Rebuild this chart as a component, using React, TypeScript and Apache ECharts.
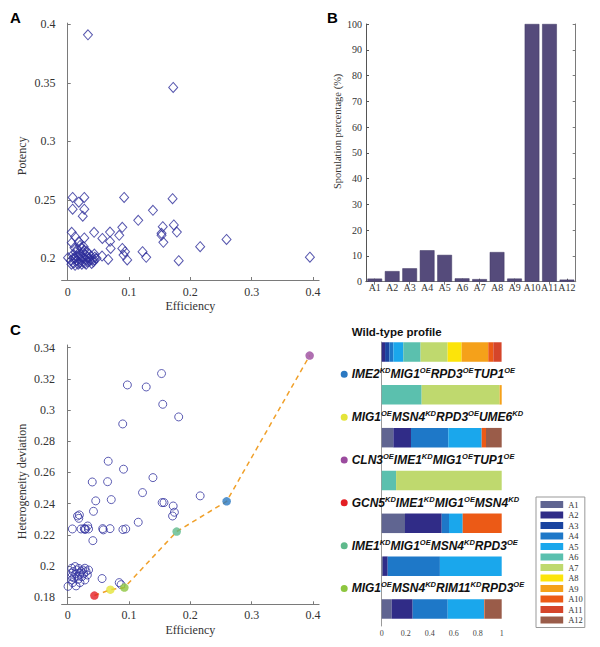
import React, { useEffect, useRef } from 'react';
import * as echarts from 'echarts';

const SERIF = "'Liberation Serif', 'Times New Roman', serif";
const SANS = "'Liberation Sans', Arial, sans-serif";
const AXIS_GRAY = '#7a7a7a';
const TEXT = '#333333';
const MARK_BLUE = '#2d2d9a';

// ---------- Panel A: efficiency vs potency ----------
const effA = [
  0.033, 0.172, 0.395, 0.008, 0.027, 0.092, 0.171, 0.018, 0.008, 0.027, 0.0245, 0.139, 0.115,
  0.155, 0.173, 0.178, 0.153, 0.153, 0.156, 0.089, 0.084, 0.069, 0.043, 0.0565, 0.069, 0.07,
  0.0065, 0.0065, 0.012, 0.027, 0.018, 0.259, 0.216, 0.122, 0.128, 0.089, 0.0935, 0.091, 0.097,
  0.181, 0.066, 0.056, 0.0435, 0.043, 0.047, 0.039, 0.0005,
  0.005, 0.008, 0.01, 0.012, 0.013, 0.015, 0.016, 0.018, 0.019, 0.02, 0.021, 0.022, 0.023, 0.024,
  0.025, 0.026, 0.027, 0.028, 0.029, 0.03, 0.031, 0.032, 0.033, 0.034, 0.035, 0.036, 0.038, 0.04,
  0.042, 0.044, 0.009, 0.011, 0.014, 0.017, 0.02, 0.023, 0.026, 0.03, 0.006, 0.012,
];
const potA = [
  0.391, 0.346, 0.201, 0.252, 0.252, 0.252, 0.251, 0.248, 0.242, 0.242, 0.236, 0.241, 0.2325,
  0.227, 0.2285, 0.2225, 0.2214, 0.2197, 0.2137, 0.2265, 0.2197, 0.2225, 0.2222, 0.217, 0.2145, 0.2085,
  0.2222, 0.2134, 0.2185, 0.2174, 0.2142, 0.2162, 0.21, 0.2057, 0.2009, 0.2085, 0.2057, 0.2028, 0.1986,
  0.198, 0.1991, 0.202, 0.2037, 0.1986, 0.2, 0.1957, 0.2006,
  0.198, 0.203, 0.196, 0.2, 0.205, 0.198, 0.208, 0.202, 0.196, 0.204, 0.199, 0.209, 0.201, 0.197,
  0.205, 0.2, 0.207, 0.196, 0.203, 0.199, 0.206, 0.201, 0.197, 0.204, 0.2, 0.198, 0.202, 0.199,
  0.197, 0.201, 0.2, 0.209, 0.202, 0.195, 0.211, 0.195, 0.21, 0.195, 0.195, 0.194,
];
const ticksA_x = [0, 0.1, 0.2, 0.3, 0.4];
const ticksA_y = [0.2, 0.25, 0.3, 0.35, 0.4];

// ---------- Panel B: sporulation percentage ----------
const clusters = ['A1', 'A2', 'A3', 'A4', 'A5', 'A6', 'A7', 'A8', 'A9', 'A10', 'A11', 'A12'];
const sporulation = [1.2, 4.1, 5.2, 12.2, 10.4, 1.3, 1.0, 11.5, 1.2, 100, 100, 0.8];

// ---------- Panel C: efficiency vs heterogeneity deviation ----------
const effC = [
  0.153, 0.0973, 0.128, 0.155, 0.181, 0.0897, 0.066, 0.091, 0.04, 0.065, 0.139, 0.122, 0.216,
  0.0457, 0.071, 0.154, 0.157, 0.172, 0.174, 0.171, 0.042, 0.019, 0.018, 0.016, 0.115,
  0.0076, 0.0217, 0.027, 0.029, 0.0326, 0.034, 0.028, 0.057, 0.058, 0.069, 0.09, 0.0946, 0.041,
  0.056, 0.084, 0.087,
  0.0005, 0.0065, 0.012, 0.0147, 0.0065, 0.0065, 0.0065, 0.008, 0.0136, 0.02, 0.023, 0.0245,
  0.028, 0.032, 0.028, 0.02, 0.017, 0.034, 0.01, 0.013, 0.016, 0.022, 0.026, 0.03, 0.009, 0.018,
];
const hetC = [
  0.3234, 0.3161, 0.3148, 0.3037, 0.2956, 0.2911, 0.2672, 0.2621, 0.2539, 0.2541, 0.2567, 0.2471, 0.245,
  0.2418, 0.2426, 0.2407, 0.2407, 0.2385, 0.2345, 0.2321, 0.2351, 0.2328, 0.2306, 0.2321, 0.2281,
  0.2238, 0.2238, 0.224, 0.2238, 0.2257, 0.2238, 0.2235, 0.224, 0.2232, 0.224, 0.2234, 0.2238, 0.2163,
  0.192, 0.1894, 0.1881,
  0.187, 0.1986, 0.1997, 0.1975, 0.1954, 0.1932, 0.1911, 0.1894, 0.1873, 0.1894, 0.1932, 0.1975,
  0.1986, 0.1943, 0.1911, 0.1954, 0.1915, 0.1975, 0.1925, 0.195, 0.1935, 0.1965, 0.195, 0.1965, 0.1965, 0.1985,
];
const ticksC_y = [0.18, 0.2, 0.22, 0.24, 0.26, 0.28, 0.3, 0.32, 0.34];

// highlighted designs (ordered by efficiency)
const pathEff = [0.0435, 0.0696, 0.0924, 0.1777, 0.2592, 0.3946];
const pathHet = [0.1811, 0.1849, 0.1862, 0.2221, 0.2415, 0.3349];
const pathColors = ['#e31e24', '#e4e43a', '#8dc63f', '#5fba8c', '#2b79c2', '#9b4b9e'];

// ---------- Profiles (fractions of each cluster) ----------
const profileGenes: [string, string][][] = [
  [],
  [['IME2', 'KD'], ['MIG1', 'OE'], ['RPD3', 'OE'], ['TUP1', 'OE']],
  [['MIG1', 'OE'], ['MSN4', 'KD'], ['RPD3', 'OE'], ['UME6', 'KD']],
  [['CLN3', 'OE'], ['IME1', 'KD'], ['MIG1', 'OE'], ['TUP1', 'OE']],
  [['GCN5', 'KD'], ['IME1', 'KD'], ['MIG1', 'OE'], ['MSN4', 'KD']],
  [['IME1', 'KD'], ['MIG1', 'OE'], ['MSN4', 'KD'], ['RPD3', 'OE']],
  [['MIG1', 'OE'], ['MSN4', 'KD'], ['RIM11', 'KD'], ['RPD3', 'OE']],
];
const profileDotColors = ['', '#2b79c2', '#e4e43a', '#9b4b9e', '#e31e24', '#5fba8c', '#8dc63f'];

const profileWT = [0, 0.028, 0.036, 0.033, 0.083, 0.144, 0.225, 0.117, 0.222, 0.042, 0.069, 0];
const profileIME2 = [0, 0, 0, 0, 0, 0.333, 0.65, 0, 0.017, 0, 0, 0];
const profileUME6 = [0.097, 0.147, 0, 0.311, 0.278, 0, 0, 0, 0, 0.036, 0, 0.131];
const profileCLN3 = [0, 0, 0, 0, 0, 0.12, 0.88, 0, 0, 0, 0, 0];
const profileGCN5 = [0.194, 0.306, 0, 0.061, 0.114, 0, 0, 0, 0, 0.325, 0, 0];
const profileIME1 = [0.01, 0.04, 0, 0.435, 0.515, 0, 0, 0, 0, 0, 0, 0];
const profileRIM11 = [0.083, 0.175, 0, 0.292, 0.303, 0, 0, 0, 0, 0.005, 0, 0.142];
const profiles = [profileWT, profileIME2, profileUME6, profileCLN3, profileGCN5, profileIME1, profileRIM11];

const clusterColors = [
  '#606591', '#302c87', '#1a44a0', '#1e78c8', '#1aa7ec', '#5bc0ae',
  '#bfd96e', '#fce40a', '#f5a11a', '#ec5a16', '#d5452a', '#9a5c49',
];

const profileKeys = profileGenes.map((g, i) =>
  i === 0 ? 'Wild-type profile' : g.map(([a, b]) => a + b).join('')
);

function buildOption(): any {
  const axisLineStyle = { color: AXIS_GRAY, width: 1 };
  const tickLabel = { fontFamily: SERIF, fontSize: 12, color: TEXT };

  const richStyles: any = {
    sp: { width: 11, height: 7 },
    gap: { width: 4, height: 7 },
    wt: { fontFamily: SANS, fontSize: 11.5, fontWeight: 'bold', color: '#111', lineHeight: 15 },
    g: { fontFamily: SANS, fontSize: 12, fontWeight: 'bold', fontStyle: 'italic', color: '#111', lineHeight: 15 },
    s: { fontFamily: SANS, fontSize: 7.5, fontWeight: 'bold', fontStyle: 'italic', color: '#111', lineHeight: 8, verticalAlign: 'top' },
  };
  profileDotColors.forEach((c, i) => {
    if (i > 0) richStyles['d' + i] = { width: 7, height: 7, borderRadius: 3.5, backgroundColor: c };
  });

  const stackSeries = clusters.map((name, k) => ({
    name,
    type: 'bar',
    stack: 'profile',
    xAxisIndex: 4,
    yAxisIndex: 4,
    barWidth: 19.5,
    itemStyle: { color: clusterColors[k] },
    data: profiles.map((p) => p[k]),
  }));

  return {
    animation: false,
    backgroundColor: '#ffffff',
    title: [
      { text: 'A', left: 10, top: 10, padding: 0, textStyle: { fontFamily: SANS, fontSize: 15, fontWeight: 'bold', color: '#000' } },
      { text: 'B', left: 327, top: 10, padding: 0, textStyle: { fontFamily: SANS, fontSize: 15, fontWeight: 'bold', color: '#000' } },
      { text: 'C', left: 10, top: 322, padding: 0, textStyle: { fontFamily: SANS, fontSize: 15, fontWeight: 'bold', color: '#000' } },
    ],
    legend: {
      data: clusters,
      orient: 'vertical',
      left: 536,
      top: 497,
      icon: 'rect',
      itemWidth: 22.7,
      itemHeight: 7,
      itemGap: 1.5,
      padding: [3, 2, 3, 4.5],
      borderColor: '#999',
      borderWidth: 1,
      selectedMode: false,
      textStyle: { fontFamily: SERIF, fontSize: 8.5, color: TEXT },
    },
    grid: [
      { left: 61.6, top: 23.1, width: 257.5, height: 256.9, outerBoundsMode: 'none' },
      { left: 366, top: 24, width: 209.7, height: 257.7, outerBoundsMode: 'none' },
      { left: 61.6, top: 345, width: 257.5, height: 259.3, outerBoundsMode: 'none' },
      { left: 381.7, top: 330.6, width: 120, height: 299.8, outerBoundsMode: 'none' },
      { left: 381.7, top: 342, width: 120, height: 284, outerBoundsMode: 'none' },
    ],
    xAxis: [
      {
        gridIndex: 0, type: 'value', min: -0.01, max: 0.41,
        name: 'Efficiency', nameLocation: 'middle', nameGap: 20,
        nameTextStyle: { fontFamily: SERIF, fontSize: 12, color: TEXT },
        axisLine: { lineStyle: axisLineStyle },
        axisTick: { show: true, inside: true, length: 3, customValues: ticksA_x, lineStyle: axisLineStyle },
        axisLabel: { ...tickLabel, margin: 6, customValues: ticksA_x },
        splitLine: { show: false },
      },
      {
        gridIndex: 1, type: 'category', data: clusters, position: 'bottom',
        axisLine: { lineStyle: { color: '#555' } },
        axisTick: { show: true, inside: true, length: 3, alignWithLabel: true, lineStyle: { color: '#555' } },
        axisLabel: { fontFamily: SERIF, fontSize: 10, color: TEXT, margin: 1, interval: 0 },
      },
      {
        gridIndex: 1, type: 'category', data: clusters, position: 'top',
        axisLine: { lineStyle: { color: AXIS_GRAY } },
        axisTick: { show: true, inside: true, length: 3, alignWithLabel: true, lineStyle: { color: AXIS_GRAY } },
        axisLabel: { show: false },
      },
      {
        gridIndex: 2, type: 'value', min: -0.01, max: 0.41,
        name: 'Efficiency', nameLocation: 'middle', nameGap: 20,
        nameTextStyle: { fontFamily: SERIF, fontSize: 12, color: TEXT },
        axisLine: { lineStyle: axisLineStyle },
        axisTick: { show: true, inside: true, length: 3, customValues: ticksA_x, lineStyle: axisLineStyle },
        axisLabel: { ...tickLabel, margin: 5, customValues: ticksA_x },
        splitLine: { show: false },
      },
      {
        gridIndex: 3, type: 'value', min: 0, max: 1, interval: 0.2,
        axisLine: { show: false },
        axisTick: { show: false },
        axisLabel: { fontFamily: SERIF, fontSize: 8, color: '#444', margin: -1 },
        splitLine: { show: false },
      },
      {
        gridIndex: 4, type: 'value', min: 0, max: 1, show: false,
      },
    ],
    yAxis: [
      {
        gridIndex: 0, type: 'value', min: 0.1815, max: 0.401,
        name: 'Potency', nameLocation: 'middle', nameGap: 34,
        nameTextStyle: { fontFamily: SERIF, fontSize: 12, color: TEXT, padding: [0, 8.6, 0, 0] },
        axisLine: { show: true, lineStyle: axisLineStyle },
        axisTick: { show: true, inside: true, length: 3, customValues: ticksA_y, lineStyle: axisLineStyle },
        axisLabel: { ...tickLabel, margin: 6, customValues: ticksA_y },
        splitLine: { show: false },
      },
      {
        gridIndex: 1, type: 'value', min: 0, max: 100, interval: 10, position: 'left',
        name: 'Sporulation percentage (%)', nameLocation: 'middle', nameGap: 23,
        nameTextStyle: { fontFamily: SERIF, fontSize: 10.5, color: TEXT, padding: [0, 0, 0, 43] },
        axisLine: { show: true, lineStyle: { color: '#555' } },
        axisTick: { show: true, inside: true, length: 3, lineStyle: { color: '#555' } },
        axisLabel: { fontFamily: SERIF, fontSize: 10, color: TEXT, margin: 4 },
        splitLine: { show: false },
      },
      {
        gridIndex: 1, type: 'value', min: 0, max: 100, interval: 10, position: 'right',
        axisLine: { show: true, lineStyle: { color: AXIS_GRAY } },
        axisTick: { show: true, inside: true, length: 3, lineStyle: { color: AXIS_GRAY } },
        axisLabel: { show: false },
        splitLine: { show: false },
      },
      {
        gridIndex: 2, type: 'value', min: 0.1755, max: 0.3417,
        name: 'Heterogeneity deviation', nameLocation: 'middle', nameGap: 34,
        nameTextStyle: { fontFamily: SERIF, fontSize: 12, color: TEXT, padding: [0, 13.6, 0, 0] },
        axisLine: { show: true, lineStyle: axisLineStyle },
        axisTick: { show: true, inside: true, length: 3, customValues: ticksC_y, lineStyle: axisLineStyle },
        axisLabel: { ...tickLabel, margin: 6.5, customValues: ticksC_y },
        splitLine: { show: false },
      },
      {
        gridIndex: 3, type: 'category', data: profileKeys, inverse: true,
        axisLine: { show: false },
        axisTick: { show: false },
        axisLabel: {
          interval: 0,
          margin: 41,
          align: 'left',
          verticalAlign: 'bottom',
          padding: [0, 0, 13, 0],
          formatter: (_v: string, idx: number) => {
            if (idx === 0) return '{sp|}{wt|Wild-type profile}';
            return `{d${idx}|}{gap|}` + profileGenes[idx].map(([g, m]) => `{g|${g}}{s|${m}}`).join('');
          },
          rich: richStyles,
        },
      },
      {
        gridIndex: 4, type: 'value', min: 0, max: 1,
        axisLine: { show: true, lineStyle: { color: '#9a9a9a' } },
        axisTick: { show: false },
        axisLabel: { show: false },
        splitLine: { show: false },
      },
    ],
    series: [
      {
        name: 'Potency', type: 'scatter', xAxisIndex: 0, yAxisIndex: 0,
        symbol: 'diamond', symbolSize: [9, 10],
        itemStyle: { color: 'rgba(0,0,0,0)', borderColor: MARK_BLUE, borderWidth: 1 },
        data: effA.map((x, i) => [x, potA[i]]),
      },
      {
        name: 'Sporulation', type: 'bar', xAxisIndex: 1, yAxisIndex: 1,
        barCategoryGap: '16%',
        itemStyle: { color: '#554b7b', borderColor: '#3d3560', borderWidth: 0.5 },
        data: sporulation,
      },
      {
        name: 'Designs', type: 'scatter', xAxisIndex: 3, yAxisIndex: 3,
        symbol: 'circle', symbolSize: 8,
        itemStyle: { color: 'rgba(0,0,0,0)', borderColor: '#3535a0', borderWidth: 1 },
        data: effC.map((x, i) => [x, hetC[i]]),
      },
      {
        name: 'Front', type: 'line', xAxisIndex: 3, yAxisIndex: 3,
        symbol: 'none', z: 3,
        lineStyle: { color: '#f0a02a', width: 1.5, type: [5, 4] },
        data: pathEff.map((x, i) => [x, pathHet[i]]),
      },
      {
        name: 'Selected', type: 'scatter', xAxisIndex: 3, yAxisIndex: 3,
        symbol: 'circle', symbolSize: 8.5, z: 5,
        data: pathEff.map((x, i) => ({ value: [x, pathHet[i]], itemStyle: { color: pathColors[i] } })),
      },
      ...stackSeries,
    ],
  };
}

export default function App() {
  const ref = useRef<HTMLDivElement>(null);
  useEffect(() => {
    if (!ref.current) return;
    const chart = echarts.init(ref.current, undefined, { renderer: 'svg' });
    chart.setOption(buildOption());
    return () => chart.dispose();
  }, []);
  return (
    <div
      ref={ref}
      style={{ position: 'fixed', left: 0, top: 0, width: 600, height: 647, background: '#fff' }}
    />
  );
}
